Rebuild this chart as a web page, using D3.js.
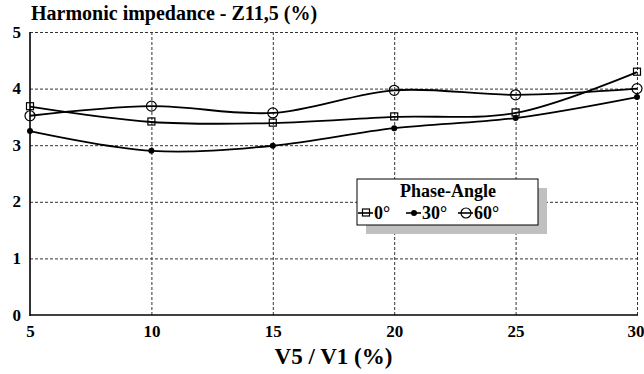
<!DOCTYPE html>
<html>
<head>
<meta charset="utf-8">
<script src="https://cdn.jsdelivr.net/npm/d3@7"></script>
<style>
  html, body { margin: 0; padding: 0; background: #fff; }
  svg { display: block; }
</style>
</head>
<body>
<svg id="chart" width="644" height="374"></svg>
<script>
// V5/V1 distortion levels (%)
const ratios = [5, 10, 15, 20, 25, 30];
// Harmonic impedance Z11,5 (%) for each phase angle
const angle0  = [3.68, 3.41, 3.39, 3.50, 3.57, 4.29];
const angle30 = [3.25, 2.90, 2.99, 3.30, 3.48, 3.85];
const angle60 = [3.52, 3.69, 3.57, 3.97, 3.89, 4.00];
const seriesNames = ["0°", "30°", "60°"];
const xTicks = [5, 10, 15, 20, 25, 30];
const yTicks = [0, 1, 2, 3, 4, 5];

const svg = d3.select("#chart");
const x = d3.scaleLinear().domain([5, 30]).range([30, 637]);
const y = d3.scaleLinear().domain([0, 5]).range([315, 32]);

// bold Times-style lettering for every text
function label(sel, size) {
  return sel.attr("font-family", null).attr("font-size", null)
    .attr("style", `font: bold ${size}px "Liberation Serif", "Times New Roman", Tinos, serif; fill: #000;`);
}

// grid
const grid = svg.append("g").attr("stroke", "#333").attr("stroke-width", 1).attr("stroke-dasharray", "3,2");
grid.selectAll("line.v").data(xTicks.slice(1)).join("line")
  .attr("x1", d => x(d) + 0.5).attr("x2", d => x(d) + 0.5)
  .attr("y1", y(5)).attr("y2", y(0));
grid.selectAll("line.h").data(yTicks.slice(1)).join("line")
  .attr("x1", x(5)).attr("x2", x(30))
  .attr("y1", d => y(d) + 0.5).attr("y2", d => y(d) + 0.5);

// solid left and bottom axes
svg.append("line").attr("x1", x(5)).attr("x2", x(5)).attr("y1", y(5)).attr("y2", y(0) + 1)
  .attr("stroke", "#000").attr("stroke-width", 1.6);
svg.append("line").attr("x1", x(5)).attr("x2", x(30) + 1).attr("y1", y(0)).attr("y2", y(0))
  .attr("stroke", "#000").attr("stroke-width", 1.6);

// tick labels
const xAxis = d3.axisBottom(x).tickValues(xTicks).tickSize(0).tickPadding(0).tickFormat(d3.format("d"));
const gx = svg.append("g").attr("transform", `translate(0, ${y(0)})`).call(xAxis);
gx.attr("font-family", null).attr("font-size", null);
gx.select(".domain").remove();
label(gx.selectAll("text"), 17).attr("dy", null).attr("y", 22)
  .attr("text-anchor", d => d === 30 ? "end" : "middle").attr("x", d => d === 30 ? 7 : 0);

const yAxis = d3.axisLeft(y).tickValues(yTicks).tickSize(0).tickPadding(0).tickFormat(d3.format("d"));
const gy = svg.append("g").attr("transform", "translate(21, 0)").call(yAxis);
gy.attr("font-family", null).attr("font-size", null);
gy.select(".domain").remove();
label(gy.selectAll("text"), 17).attr("x", 0).attr("dy", "0.3em");

// titles
label(svg.append("text"), 20).attr("x", 31).attr("y", 20)
  .text("Harmonic impedance - Z11,5 (%)");
label(svg.append("text"), 23).attr("x", x(17.5)).attr("y", 364).attr("text-anchor", "middle")
  .text("V5 / V1 (%)");

// series
const line = d3.line().x(d => x(d[0])).y(d => y(d[1])).curve(d3.curveCatmullRom.alpha(0.5));
const series = [angle0, angle30, angle60].map(vals => ratios.map((r, i) => [r, vals[i]]));

const plot = svg.append("g");
plot.selectAll("path.series").data(series).join("path")
  .attr("d", line).attr("fill", "none").attr("stroke", "#000").attr("stroke-width", 1.8);

function drawMarker(g, kind, cx, cy) {
  if (kind === 0) {
    g.append("rect").attr("x", cx - 3.5).attr("y", cy - 4).attr("width", 7).attr("height", 7)
      .attr("fill", "none").attr("stroke", "#000").attr("stroke-width", 1.2);
  } else if (kind === 1) {
    g.append("circle").attr("cx", cx).attr("cy", cy).attr("r", 3).attr("fill", "#000");
  } else {
    g.append("circle").attr("cx", cx).attr("cy", cy).attr("r", 5)
      .attr("fill", "none").attr("stroke", "#000").attr("stroke-width", 1.2);
  }
}
series.forEach((s, k) => s.forEach(d => drawMarker(plot, k, x(d[0]), y(d[1]))));

// legend with drop shadow
const legend = svg.append("g").attr("transform", "translate(357, 179)");
legend.append("rect").attr("x", 9).attr("y", 9).attr("width", 181).attr("height", 46).attr("fill", "#c0c0c0");
legend.append("rect").attr("x", 0).attr("y", 0).attr("width", 181).attr("height", 46)
  .attr("fill", "#fff").attr("stroke", "#000").attr("stroke-width", 1);
label(legend.append("text"), 18).attr("x", 91).attr("y", 18).attr("text-anchor", "middle")
  .text("Phase-Angle");
const entryX = [1, 49, 101];
seriesNames.forEach((name, k) => {
  const ex = entryX[k];
  const g = legend.append("g");
  g.append("line").attr("x1", ex).attr("x2", ex + 15).attr("y1", 34).attr("y2", 34)
    .attr("stroke", "#000").attr("stroke-width", 1.6);
  drawMarker(g, k, ex + 8, 34);
  label(g.append("text"), 18).attr("x", ex + 16).attr("y", 40).text(name);
});
</script>
</body>
</html>
